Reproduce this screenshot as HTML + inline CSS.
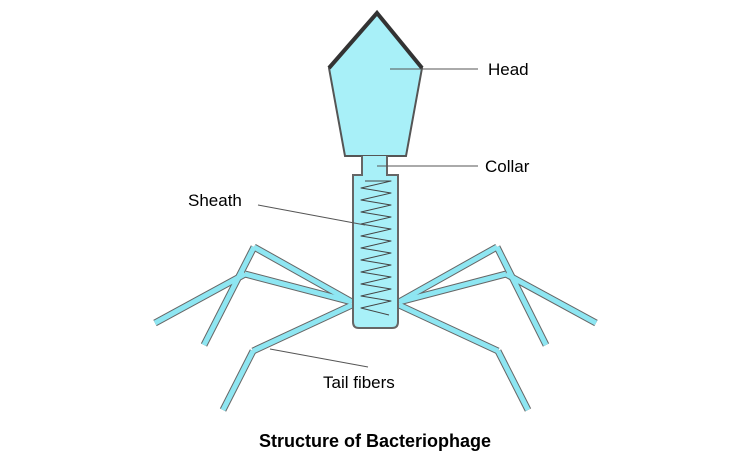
<!DOCTYPE html>
<html><head><style>body{margin:0;background:#fff;}svg{display:block}</style></head><body>
<svg width="750" height="475" viewBox="0 0 750 475" xmlns="http://www.w3.org/2000/svg" font-family="Liberation Sans, sans-serif">
<g fill="none" stroke-linecap="butt">
<g stroke="#666" stroke-width="7">
<line x1="352" y1="302" x2="254" y2="247"/><line x1="254" y1="247" x2="204" y2="345"/>
<line x1="352" y1="302" x2="245" y2="274"/><line x1="245" y1="274" x2="155" y2="323"/>
<line x1="352" y1="305" x2="253" y2="351"/><line x1="253" y1="351" x2="223" y2="410"/>
<line x1="399" y1="302" x2="497" y2="247"/><line x1="497" y1="247" x2="546" y2="345"/>
<line x1="399" y1="302" x2="506" y2="274"/><line x1="506" y1="274" x2="596" y2="323"/>
<line x1="399" y1="305" x2="498" y2="351"/><line x1="498" y1="351" x2="528" y2="410"/>
</g>
<g stroke="#8ee6f2" stroke-width="5">
<line x1="352" y1="302" x2="254" y2="247"/><line x1="254" y1="247" x2="204" y2="345"/>
<line x1="352" y1="302" x2="245" y2="274"/><line x1="245" y1="274" x2="155" y2="323"/>
<line x1="352" y1="305" x2="253" y2="351"/><line x1="253" y1="351" x2="223" y2="410"/>
<line x1="399" y1="302" x2="497" y2="247"/><line x1="497" y1="247" x2="546" y2="345"/>
<line x1="399" y1="302" x2="506" y2="274"/><line x1="506" y1="274" x2="596" y2="323"/>
<line x1="399" y1="305" x2="498" y2="351"/><line x1="498" y1="351" x2="528" y2="410"/>
</g>
</g>
<polygon points="377,13 329,68 345,156 406,156 422,68" fill="#a8f0f8" stroke="#555" stroke-width="2"/>
<polyline points="329,68 377,13 422,68" fill="none" stroke="#333" stroke-width="4"/>
<path d="M362,156 V175 H353 V322 Q353,328 359,328 H392 Q398,328 398,322 V175 H387 V156" fill="#a8f0f8" stroke="#666" stroke-width="2"/>
<polyline fill="none" stroke="#444" stroke-width="1" stroke-linejoin="round"
points="365,181 391,181 361,188 391,193 361,200 391,205 361,212 391,217 361,224 391,229 361,236 391,241 361,248 391,253 361,260 391,265 361,272 391,277 361,284 391,289 361,296 391,301 361,308 389,315"/>
<g stroke="#555" stroke-width="1">
<line x1="390" y1="69" x2="478" y2="69"/>
<line x1="377" y1="166" x2="478" y2="166"/>
<line x1="258" y1="205" x2="365" y2="225"/>
<line x1="270" y1="349" x2="368" y2="367"/>
</g>
<g font-size="17" fill="#000">
<text x="488" y="75">Head</text>
<text x="485" y="172">Collar</text>
<text x="188" y="206">Sheath</text>
<text x="323" y="388">Tail fibers</text>
<text x="375" y="447" text-anchor="middle" font-weight="bold" font-size="18">Structure of Bacteriophage</text>
</g>
</svg>
</body></html>
